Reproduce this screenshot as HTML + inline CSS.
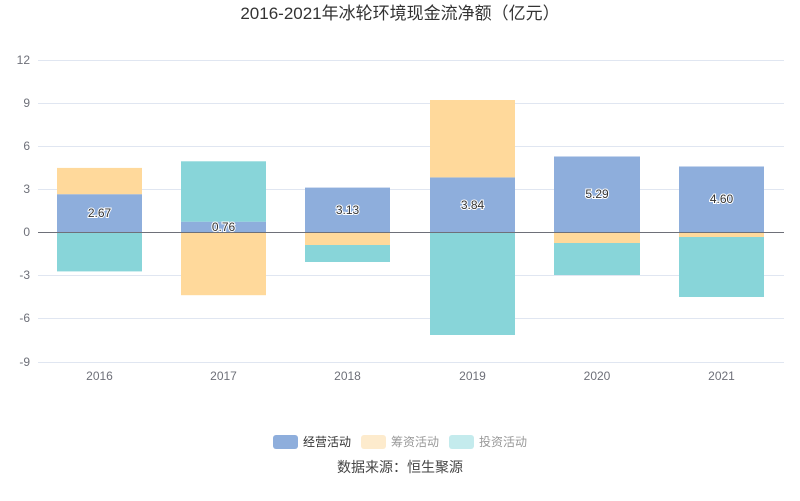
<!DOCTYPE html>
<html><head><meta charset="utf-8"><style>body{margin:0;background:#fff}svg{display:block}</style></head><body>
<svg width="800" height="501" xmlns="http://www.w3.org/2000/svg" font-family="Liberation Sans, Noto Sans CJK SC, sans-serif">
<text x="400" y="19" text-anchor="middle" font-size="17" fill="#333">2016-2021年冰轮环境现金流净额（亿元）</text>
<g stroke="#e0e6f1" stroke-width="1">
<line x1="38" x2="784" y1="60.5" y2="60.5"/><line x1="38" x2="784" y1="103.5" y2="103.5"/><line x1="38" x2="784" y1="146.5" y2="146.5"/><line x1="38" x2="784" y1="189.5" y2="189.5"/><line x1="38" x2="784" y1="275.5" y2="275.5"/><line x1="38" x2="784" y1="318.5" y2="318.5"/><line x1="38" x2="784" y1="362.5" y2="362.5"/>
</g>
<g font-size="12" fill="#6e7079" text-anchor="end">
<text x="30" y="64">12</text><text x="30" y="107">9</text><text x="30" y="150">6</text><text x="30" y="193">3</text><text x="30" y="236">0</text><text x="30" y="279">-3</text><text x="30" y="322">-6</text><text x="30" y="366">-9</text>
</g>
<g>
<rect x="57" y="194.2" width="85" height="38.4" fill="#8eaedc"/><rect x="57" y="167.9" width="85" height="26.3" fill="#ffd99b"/><rect x="57" y="232.6" width="85" height="38.8" fill="#88d5d9"/>
<rect x="181" y="221.7" width="85" height="10.9" fill="#8eaedc"/><rect x="181" y="161.3" width="85" height="60.4" fill="#88d5d9"/><rect x="181" y="232.6" width="85" height="62.6" fill="#ffd99b"/>
<rect x="305" y="187.6" width="85" height="45" fill="#8eaedc"/><rect x="305" y="232.6" width="85" height="12.4" fill="#ffd99b"/><rect x="305" y="245" width="85" height="17" fill="#88d5d9"/>
<rect x="430" y="177.4" width="85" height="55.2" fill="#8eaedc"/><rect x="430" y="100" width="85" height="77.4" fill="#ffd99b"/><rect x="430" y="232.6" width="85" height="102.4" fill="#88d5d9"/>
<rect x="554" y="156.5" width="86" height="76.1" fill="#8eaedc"/><rect x="554" y="232.6" width="86" height="10.4" fill="#ffd99b"/><rect x="554" y="243" width="86" height="32" fill="#88d5d9"/>
<rect x="679" y="166.5" width="85" height="66.1" fill="#8eaedc"/><rect x="679" y="232.6" width="85" height="4.4" fill="#ffd99b"/><rect x="679" y="237" width="85" height="60" fill="#88d5d9"/>
</g>
<line x1="38" x2="784" y1="232.5" y2="232.5" stroke="#6e7079"/>
<g font-size="12" fill="#333" text-anchor="middle" stroke="#fff" stroke-width="2" paint-order="stroke">
<text x="99.5" y="217">2.67</text><text x="223.5" y="231">0.76</text><text x="347.5" y="214">3.13</text><text x="472.5" y="209">3.84</text><text x="597" y="198">5.29</text><text x="721.5" y="203">4.60</text>
</g>
<g font-size="12" fill="#6e7079" text-anchor="middle">
<text x="99.5" y="380">2016</text><text x="223.5" y="380">2017</text><text x="347.5" y="380">2018</text><text x="472.5" y="380">2019</text><text x="597" y="380">2020</text><text x="721.5" y="380">2021</text>
</g>
<g font-size="12">
<rect x="273" y="435" width="25" height="14" rx="3" fill="#8eaedc"/><text x="303" y="446" fill="#333">经营活动</text>
<rect x="361" y="435" width="25" height="14" rx="3" fill="#fdebcd"/><text x="391" y="446" fill="#999">筹资活动</text>
<rect x="449" y="435" width="25" height="14" rx="3" fill="#c4ebed"/><text x="479" y="446" fill="#999">投资活动</text>
</g>
<text x="400" y="472" text-anchor="middle" font-size="14" fill="#444">数据来源：恒生聚源</text>
</svg>
</body></html>
